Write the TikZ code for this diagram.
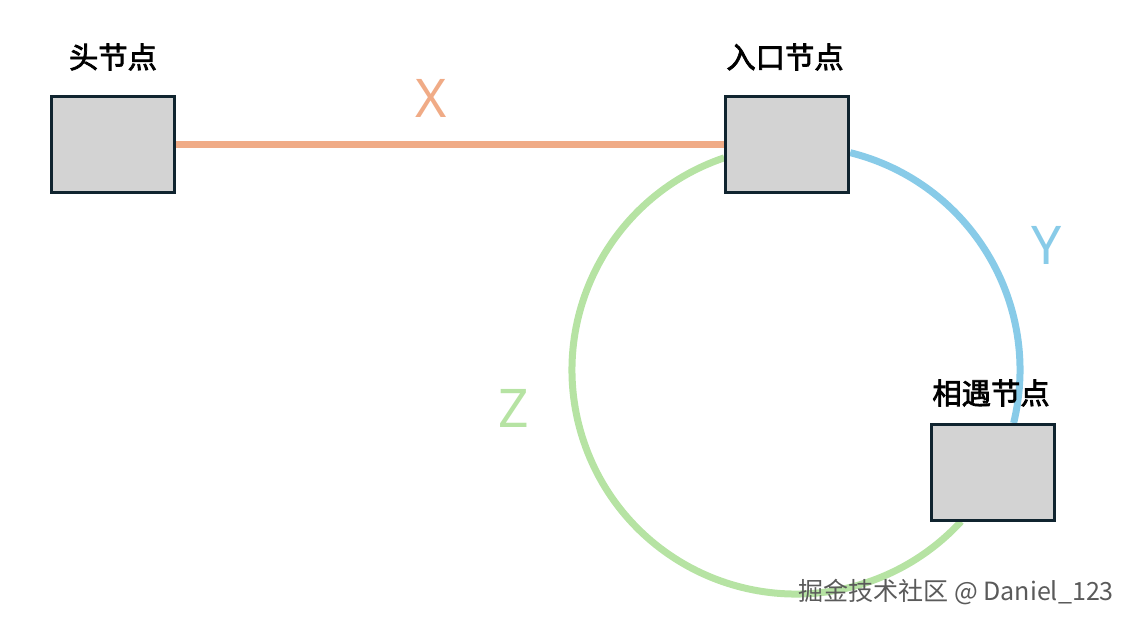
\documentclass[tikz,border=0pt]{standalone}
\usepackage{fontspec}
\setmainfont{Noto Sans}
\newfontfamily\cjk{Noto Sans CJK SC}
\newfontfamily\cjkmid[FakeBold=2.5]{Noto Sans CJK SC}
\usetikzlibrary{calc,backgrounds}

\definecolor{boxfill}{HTML}{D3D3D3}
\definecolor{boxline}{HTML}{10242F}
\definecolor{xcol}{HTML}{F0AB86}
\definecolor{ycol}{HTML}{88CBE8}
\definecolor{zcol}{HTML}{B6E3A3}
\definecolor{markgray}{HTML}{5A5A5A}

\begin{document}
\begin{tikzpicture}[x=0.75pt,y=0.75pt,
    listnode/.style={draw=boxline,fill=boxfill,line width=2.25pt,minimum width=92pt,minimum height=72pt,inner sep=0pt},
    namelabel/.style={font=\cjkmid\fontsize{22}{24}\selectfont},
    seglabel/.style={font=\fontsize{40}{44}\selectfont},
    seg/.style={line width=5.25pt}]
        \useasboundingbox (0,0) rectangle (1134,626);

        \node[listnode] (head) at (113,481.5){};
        \node[listnode] (entry) at (787,481.5){};
        \node[listnode] (meet) at (993,153.5){};
        \coordinate (loopc) at (796,256);

        \node[namelabel] (headlab) at (113,569){头节点};
        \node[namelabel] (entrylab) at (785,569){入口节点};
        \node[namelabel] (meetlab) at (991,233){相遇节点};

        \node[seglabel,text=xcol] (xlab) at (431,528){X};
        \node[seglabel,text=ycol] (ylab) at (1047,381){Y};
        \node[seglabel,text=zcol] (zlab) at (514,218){Z};

        \begin{scope}[on background layer]
        \path[draw,seg,xcol] (head.east) -- (entry.west);
        \path[draw,seg,zcol] ($(loopc)+(108.7:224)$) arc[start angle=108.7,end angle=317.5,radius=224];
        \path[draw,seg,ycol] ($(loopc)+(76:224)$) arc[start angle=76,end angle=-13.7,radius=224];
        \end{scope}

        \node[text=markgray] (mark) at (956,34){\cjk\fontsize{18.8}{20}\selectfont 掘金技术社区 @ Daniel\_123};
      \end{tikzpicture}
\end{document}
